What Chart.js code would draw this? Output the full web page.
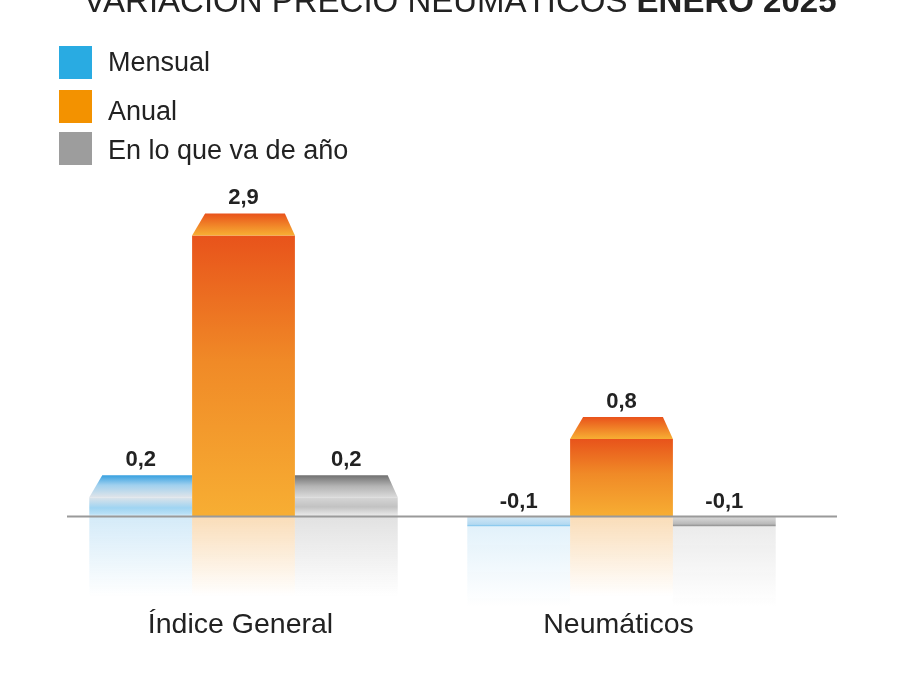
<!DOCTYPE html>
<html>
<head>
<meta charset="utf-8">
<script src="https://cdn.jsdelivr.net/npm/chart.js@4"></script>
<style>
    html, body { margin: 0; padding: 0; background: #fff; }
    #wrap { width: 900px; height: 700px; position: relative; }
</style>
</head>
<body>
<div id="wrap"><canvas id="chart"></canvas></div>
<script>
// data
var categories = ["Índice General", "Neumáticos"];
var mensual = [0.2, -0.1];
var anual = [2.9, 0.8];
var enLoQueVa = [0.2, -0.1];
var seriesNames = ["Mensual", "Anual", "En lo que va de año"];
var titleRegular = "VARIACIÓN PRECIO NEUMÁTICOS ";
var titleBold = "ENERO 2025";

var legendColors = ["#29abe2", "#f39200", "#9d9d9d"];
var FONT = "Arial, Liberation Sans, Helvetica, sans-serif";
var BEVEL = 22;

// gradient stops, per series: front face (positive), front face (negative), bevel, reflection
var styles = [
    {
        pos: [[0, "#dde3e9"], [0.55, "#9fd4f2"], [0.85, "#b8e0f6"], [1, "#e2f2fb"]],
        neg: [[0, "#d3e8f6"], [0.8, "#b3d9f1"], [1, "#72bfec"]],
        bevel: [[0, "#36a0e0"], [0.45, "#a0d0ee"], [1, "#dfe4e9"]],
        refl: "rgba(160, 210, 240, "
    },
    {
        pos: [[0, "#e8531b"], [0.45, "#f08a27"], [1, "#f7ae33"]],
        neg: [[0, "#f7ae33"], [1, "#e8531b"]],
        bevel: [[0, "#e9521b"], [1, "#f7af33"]],
        refl: "rgba(243, 180, 100, "
    },
    {
        pos: [[0, "#d6d6d6"], [0.5, "#c2c2c2"], [1, "#eeeeee"]],
        neg: [[0, "#dcdcdc"], [0.75, "#b9b9b9"], [1, "#8a8a8a"]],
        bevel: [[0, "#707070"], [0.5, "#b4b4b4"], [1, "#dadada"]],
        refl: "rgba(190, 190, 190, "
    }
];

function makeGradient(ctx, y0, y1, stops) {
    var g = ctx.createLinearGradient(0, y0, 0, y1);
    stops.forEach(function (s) { g.addColorStop(s[0], s[1]); });
    return g;
}

function faceColor(c) {
    var chart = c.chart;
    if (!chart.chartArea) return legendColors[c.datasetIndex];
    var y = chart.scales.y;
    var v = c.raw;
    var top = y.getPixelForValue(Math.max(v, 0));
    var bot = y.getPixelForValue(Math.min(v, 0));
    var st = styles[c.datasetIndex];
    return makeGradient(chart.ctx, top, bot, v >= 0 ? st.pos : st.neg);
}

var decorPlugin = {
    id: "decor",
    beforeDatasetsDraw: function (chart) {
        var ctx = chart.ctx;
        var zero = chart.scales.y.getPixelForValue(0);
        // reflections under the base line
        chart.data.datasets.forEach(function (ds, i) {
            chart.getDatasetMeta(i).data.forEach(function (bar, j) {
                var v = ds.data[j];
                var start = v < 0 ? bar.y : zero;
                var len = 80;
                var st = styles[i];
                var g = ctx.createLinearGradient(0, start, 0, start + len);
                g.addColorStop(0, st.refl + (v < 0 ? "0.3)" : "0.45)"));
                g.addColorStop(1, st.refl + "0)");
                ctx.save();
                ctx.fillStyle = g;
                ctx.fillRect(bar.x - bar.width / 2, start, bar.width, len);
                ctx.restore();
            });
        });
    },
    afterDatasetsDraw: function (chart) {
        var ctx = chart.ctx;
        var zero = chart.scales.y.getPixelForValue(0);

        // bevelled tops on positive bars
        chart.data.datasets.forEach(function (ds, i) {
            chart.getDatasetMeta(i).data.forEach(function (bar, j) {
                if (ds.data[j] <= 0) return;
                var l = bar.x - bar.width / 2, r = bar.x + bar.width / 2;
                var il = i === 2 ? 0 : 13;
                var ir = i === 0 ? 0 : 10;
                ctx.save();
                ctx.beginPath();
                ctx.moveTo(l, bar.y);
                ctx.lineTo(l + il, bar.y - BEVEL);
                ctx.lineTo(r - ir, bar.y - BEVEL);
                ctx.lineTo(r, bar.y);
                ctx.closePath();
                ctx.fillStyle = makeGradient(ctx, bar.y - BEVEL, bar.y, styles[i].bevel);
                ctx.fill();
                ctx.restore();
            });
        });

        // base line
        ctx.save();
        ctx.strokeStyle = "#9a9a9a";
        ctx.lineWidth = 2;
        ctx.beginPath();
        ctx.moveTo(67, zero);
        ctx.lineTo(837, zero);
        ctx.stroke();
        ctx.restore();

        // value labels
        ctx.save();
        ctx.font = "bold 22px " + FONT;
        ctx.fillStyle = "#222";
        ctx.textAlign = "center";
        ctx.textBaseline = "alphabetic";
        chart.data.datasets.forEach(function (ds, i) {
            chart.getDatasetMeta(i).data.forEach(function (bar, j) {
                var v = ds.data[j];
                var top = v > 0 ? bar.y - BEVEL : zero;
                ctx.fillText(v.toFixed(1).replace(".", ","), bar.x, top - 9);
            });
        });
        ctx.restore();

        // category labels
        ctx.save();
        ctx.font = "28.5px " + FONT;
        ctx.fillStyle = "#222";
        ctx.textAlign = "center";
        categories.forEach(function (c, k) {
            ctx.fillText(c, chart.scales.x.getPixelForValue(k) - 3, 633);
        });
        ctx.restore();

        // legend
        ctx.save();
        ctx.font = "27px " + FONT;
        ctx.textBaseline = "alphabetic";
        var boxTop = [46, 90, 132];
        var textBase = [71, 120, 159];
        seriesNames.forEach(function (n, k) {
            ctx.fillStyle = legendColors[k];
            ctx.fillRect(59, boxTop[k], 33, 33);
            ctx.fillStyle = "#222";
            ctx.fillText(n, 108, textBase[k]);
        });
        ctx.restore();

        // title (cut at the top)
        ctx.save();
        ctx.fillStyle = "#222";
        ctx.textBaseline = "alphabetic";
        ctx.font = "33px " + FONT;
        var w1 = ctx.measureText(titleRegular).width;
        ctx.font = "bold 33px " + FONT;
        var w2 = ctx.measureText(titleBold).width;
        var x0 = 460 - (w1 + w2) / 2;
        ctx.font = "33px " + FONT;
        ctx.fillText(titleRegular, x0, 12);
        ctx.font = "bold 33px " + FONT;
        ctx.fillText(titleBold, x0 + w1, 12);
        ctx.restore();
    }
};

var chart1 = new Chart(document.getElementById("chart"), {
    type: "bar",
    data: {
        labels: categories,
        datasets: [
            { label: seriesNames[0], data: mensual, backgroundColor: faceColor },
            { label: seriesNames[1], data: anual, backgroundColor: faceColor },
            { label: seriesNames[2], data: enLoQueVa, backgroundColor: faceColor }
        ]
    },
    options: {
        responsive: true,
        maintainAspectRatio: false,
        animation: false,
        layout: { padding: { left: 54.5, right: 89.5, top: 206.3, bottom: 100 } },
        datasets: { bar: { categoryPercentage: 0.816, barPercentage: 1, borderWidth: 0 } },
        scales: {
            x: { display: false },
            y: { display: false, min: -0.86, max: 3.2 }
        },
        plugins: {
            legend: { display: false },
            tooltip: { enabled: false }
        }
    },
    plugins: [decorPlugin]
});
</script>
</body>
</html>
